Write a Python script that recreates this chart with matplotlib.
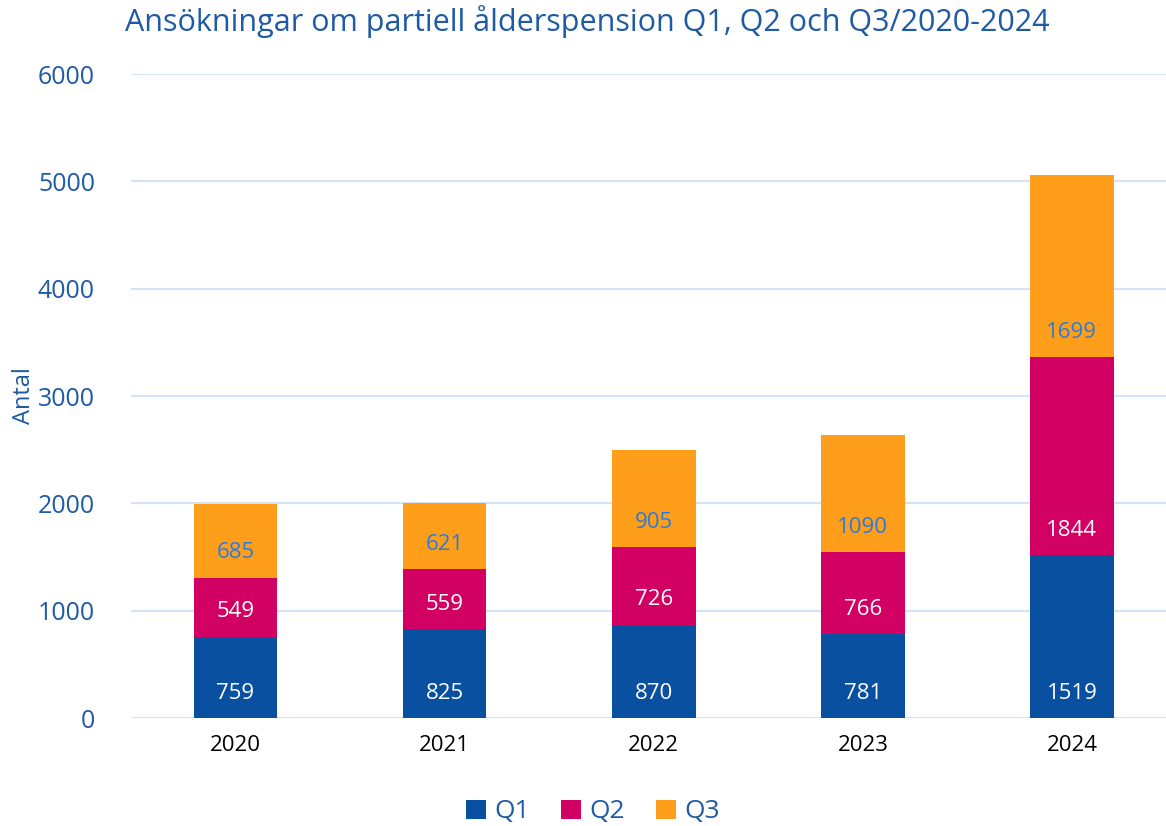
import matplotlib.pyplot as plt
import numpy as np

plt.rcParams['font.family'] = ['Open Sans', 'DejaVu Sans']

years = ['2020', '2021', '2022', '2023', '2024']
q1 = [759, 825, 870, 781, 1519]
q2 = [549, 559, 726, 766, 1844]
q3 = [685, 621, 905, 1090, 1699]

c_q1 = '#0A50A1'
c_q2 = '#D20062'
c_q3 = '#FF9E1B'
blue_txt = '#1F5AA6'

fig = plt.figure(figsize=(11.66, 8.26), dpi=100)
ax = fig.add_axes([131 / 1166, 1 - 718 / 826, (1166 - 131) / 1166, (718 - 74) / 826])

x = np.arange(len(years))
w = 0.4
b1 = ax.bar(x, q1, w, color=c_q1, label='Q1', zorder=3)
b2 = ax.bar(x, q2, w, bottom=q1, color=c_q2, label='Q2', zorder=3)
bot3 = np.array(q1) + np.array(q2)
b3 = ax.bar(x, q3, w, bottom=bot3, color=c_q3, label='Q3', zorder=3)

# labels sit near the base of each segment
off = 230
for i in range(len(years)):
    ax.text(x[i], off, str(q1[i]), ha='center', va='center', color='white', fontsize=16, zorder=4)
    ax.text(x[i], q1[i] + off, str(q2[i]), ha='center', va='center', color='white', fontsize=16, zorder=4)
    ax.text(x[i], bot3[i] + off, str(q3[i]), ha='center', va='center', color='#2A7CDC', fontsize=16, zorder=4)

ax.set_xlim(-0.5, 4.45)
ax.set_ylim(0, 6000)
ax.set_yticks(range(0, 6001, 1000))
ax.set_xticks(x)
ax.set_xticklabels(years, fontsize=16, color='black')
ax.tick_params(axis='y', labelsize=18, labelcolor=blue_txt, length=0, pad=26)
ax.tick_params(axis='x', length=0, pad=12)
ax.grid(axis='y', color='#D3E3F7', linewidth=1.5, zorder=0)
for s in ax.spines.values():
    s.set_visible(False)

ax.set_ylabel('Antal', fontsize=17, color=blue_txt)
ax.yaxis.set_label_coords(-0.092, 0.5)

fig.text(125 / 1166, 1 - 22 / 826, 'Ansökningar om partiell ålderspension Q1, Q2 och Q3/2020-2024',
         fontsize=22, color=blue_txt, ha='left', va='center')

leg = fig.legend(handles=[b1, b2, b3], labels=['Q1', 'Q2', 'Q3'], loc='center',
                 bbox_to_anchor=(593 / 1166, 1 - 812 / 826), ncol=3, frameon=False,
                 fontsize=19, handlelength=0.75, handleheight=0.75, handletextpad=0.3,
                 columnspacing=1.2)
for t in leg.get_texts():
    t.set_color(blue_txt)

fig.savefig('out.png', dpi=100)
